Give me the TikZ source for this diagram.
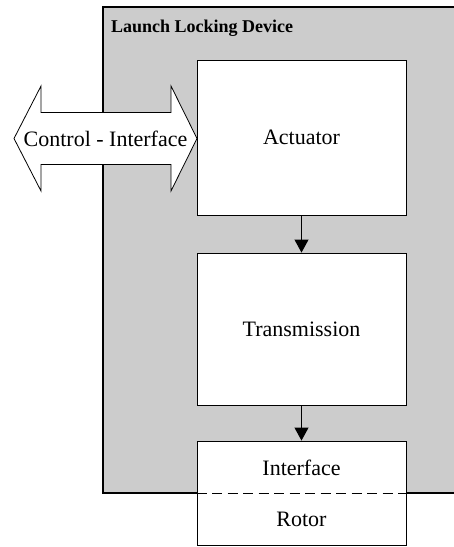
\documentclass[tikz,border=0pt]{standalone}
\usepackage{fontspec}
\setmainfont{Liberation Serif}
\usetikzlibrary{arrows.meta}
\begin{document}
\begin{tikzpicture}[x=1pt,y=-1pt,
  devicebox/.style={draw=black,line width=2pt,fill=black!20},
  block/.style={draw=black,line width=0.9pt,fill=white,minimum width=209pt,inner sep=0pt,font=\fontsize{22}{26}\selectfont},
  label/.style={inner sep=0pt,font=\fontsize{22}{26}\selectfont},
  flow/.style={line width=1pt,-{Triangle[width=14pt,length=13pt]}}]
\useasboundingbox (0,0) rectangle (454,547);
% device container
\draw[devicebox] (103,7) rectangle (480,493);
\node[anchor=base west,inner sep=0pt,font=\fontsize{18}{22}\selectfont\bfseries] (title) at (111,32.7) {Launch Locking Device};
% blocks
\node[block,minimum height=155pt] (act) at (301.5,137.5) {Actuator};
\node[block,minimum height=152pt] (trans) at (301.5,329) {Transmission};
\node[block,minimum height=104pt] (lower) at (301.5,493) {};
\node[label] (iface) at (301.5,467.5) {Interface};
\node[label] (rotor) at (301.5,519.5) {Rotor};
\draw[line width=1pt,dash pattern=on 10pt off 5.5pt] (lower.west) -- (lower.east);
% flows
\draw[flow] (act) -- (trans);
\draw[flow] (trans) -- (lower);
% control interface double arrow
\draw[line width=0.8pt,fill=white,line join=miter]
  (14,138.5) -- (41,86) -- (41,112.5) -- (171,112.5) -- (171,86) -- (197,138.5)
  -- (171,191) -- (171,164.5) -- (41,164.5) -- (41,191) -- cycle;
\node[label] (ctrl) at (105.5,138.5) {Control - Interface};
\end{tikzpicture}
\end{document}
